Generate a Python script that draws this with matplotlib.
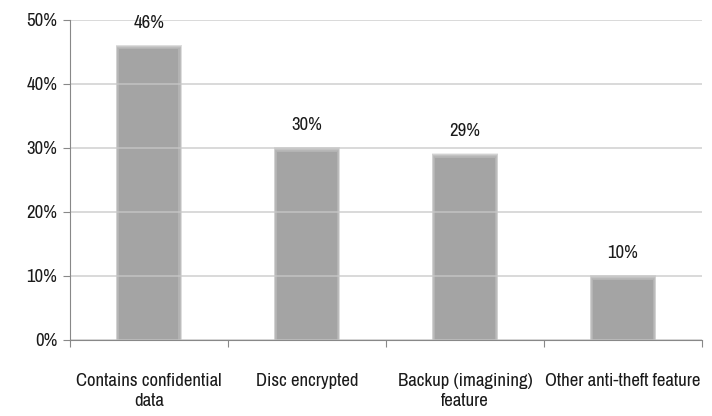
import matplotlib.pyplot as plt
import numpy as np

categories = ["Contains confidential\ndata", "Disc encrypted",
              "Backup (imagining)\nfeature", "Other anti-theft feature"]
values = [46, 30, 29, 10]
labels = ["46%", "30%", "29%", "10%"]

plt.rcParams['font.family'] = ['Archivo Narrow', 'DejaVu Sans']

fig, ax = plt.subplots(figsize=(7.12, 4.16), dpi=100)
fig.subplots_adjust(left=0.098, right=0.986, top=0.952, bottom=0.183)

x = np.arange(len(values))
w = 0.4
vals = np.array(values, dtype=float)
# soft (blurred) edges: stacked faint layers, wider ones under the core
n = 8
for i in range(n):
    k = 0.03 * (1 - i / n)
    ax.bar(x, vals - 0.5 + k * 22, width=w + k - 0.01, color="#a6a6a6",
           alpha=0.2, linewidth=0, zorder=2)
ax.bar(x, vals - 0.6, width=w - 0.025, color="#a4a4a4", linewidth=0, zorder=2)

for xi, v, lab in zip(x, values, labels):
    ax.text(xi, v + 3.6, lab, ha="center", va="center", fontsize=13.5, color="#1a1a1a")

ax.set_ylim(0, 50)
ax.set_xlim(-0.5, len(values) - 0.5)
ax.set_yticks(range(0, 51, 10))
ax.set_yticklabels([f"{t}%" for t in range(0, 51, 10)], fontsize=13.5, color="#1a1a1a")
ax.yaxis.grid(True, color="#c8c8c8", linewidth=1.2, alpha=0.8, zorder=3)
ax.set_axisbelow(False)
ax.set_xticks(np.arange(-0.5, len(values), 1.0))
ax.set_xticklabels([])
ax.set_xticks(x, minor=True)
ax.set_xticklabels(categories, minor=True, fontsize=13.5, color="#1a1a1a",
                   linespacing=1.3)
ax.tick_params(axis="x", which="minor", length=0, pad=24)
ax.tick_params(axis="x", which="major", length=5, color="#888888")
ax.tick_params(axis="y", length=5, color="#888888", pad=4)
for s in ["top", "right"]:
    ax.spines[s].set_visible(False)
for s in ["left", "bottom"]:
    ax.spines[s].set_color("#888888")
    ax.spines[s].set_zorder(4)

plt.savefig("out.png", dpi=100)
